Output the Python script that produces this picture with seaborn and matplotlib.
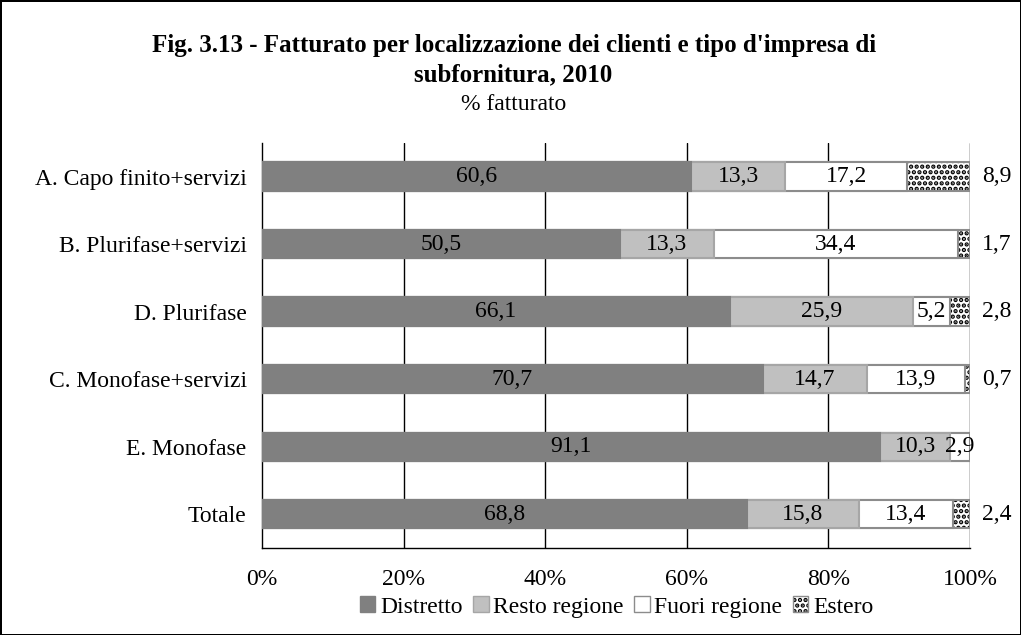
import numpy as np
import pandas as pd
import seaborn as sns
import matplotlib.pyplot as plt
from matplotlib.patches import Patch

categorie = ["A. Capo finito+servizi", "B. Plurifase+servizi", "D. Plurifase",
             "C. Monofase+servizi", "E. Monofase", "Totale"]
distretto = [60.6, 50.5, 66.1, 70.7, 91.1, 68.8]
resto_regione = [13.3, 13.3, 25.9, 14.7, 10.3, 15.8]
fuori_regione = [17.2, 34.4, 5.2, 13.9, 2.9, 13.4]
estero = [8.9, 1.7, 2.8, 0.7, 0.0, 2.4]
serie = ["Distretto", "Resto regione", "Fuori regione", "Estero"]
tick_x = [0, 20, 40, 60, 80, 100]

sns.set_theme(style="white")
plt.rcParams["font.family"] = ["Liberation Serif", "DejaVu Serif"]
plt.rcParams["text.color"] = "black"
plt.rcParams["xtick.labelcolor"] = "black"
plt.rcParams["ytick.labelcolor"] = "black"
plt.rcParams["hatch.color"] = "black"
plt.rcParams["hatch.linewidth"] = 2.2

df = pd.DataFrame({"cat": categorie, "Distretto": distretto,
                   "Resto regione": resto_regione,
                   "Fuori regione": fuori_regione, "Estero": estero})
tot = df[serie].sum(axis=1)
quote = df[serie].div(tot, axis=0) * 100
cum = quote.cumsum(axis=1)
start = cum - quote

fig = plt.figure(figsize=(10.21, 6.35), dpi=100, linewidth=2, edgecolor="black")
ax = fig.add_axes([0.2566, 0.137, 0.6934, 0.638])

stili = {
    "Estero": dict(color="white", edgecolor="#8c8c8c", hatch="..."),
    "Fuori regione": dict(color="white", edgecolor="#8c8c8c"),
    "Resto regione": dict(color="#c0c0c0", edgecolor="#a6a6a6"),
    "Distretto": dict(color="#808080", edgecolor="#808080"),
}
# stacked bars: draw cumulative totals from the last series back to the first
for s in serie[::-1]:
    st = stili[s]
    sns.barplot(x=cum[s].values, y=df["cat"], orient="h", ax=ax, width=0.42,
                color=st["color"], edgecolor=st["edgecolor"], linewidth=1.5,
                hatch=st.get("hatch"), saturation=1, zorder=3)

# hatch dots in black while the bar outline stays grey
for p in ax.patches:
    if p.get_hatch():
        p._hatch_color = (0, 0, 0, 1)

# labels
fs = 17
for i in range(len(categorie)):
    for s in ["Distretto", "Resto regione", "Fuori regione"]:
        v = df.loc[i, s]
        xc = start.loc[i, s] + quote.loc[i, s] / 2
        ax.text(xc, i, f"{v:.1f}".replace(".", ","), ha="center", va="center",
                fontsize=fs, zorder=5)
    v = df.loc[i, "Estero"]
    if v > 0:
        ax.text(103.8, i, f"{v:.1f}".replace(".", ","), ha="center", va="center",
                fontsize=fs, zorder=5, clip_on=False)

ax.set_xlim(0, 100)
ax.set_ylim(len(categorie) - 0.5, -0.5)
ax.set_xticks(tick_x)
ax.set_xticklabels([f"{t}%" for t in tick_x], fontsize=fs)
ax.set_yticks(range(len(categorie)))
ax.set_yticklabels(categorie, fontsize=fs)
ax.set_yticks(np.arange(-0.5, len(categorie)), minor=True)
ax.tick_params(axis="y", which="major", length=0, pad=11)
ax.tick_params(axis="y", which="minor", length=5, width=1, color="black", direction="out")
ax.tick_params(axis="x", which="major", length=5, width=1, color="black",
               direction="out", pad=10)
ax.set_xlabel("")
ax.set_ylabel("")
for t in tick_x[1:]:
    ax.axvline(t, color="black", linewidth=1, zorder=1)
for sp in ["top", "right"]:
    ax.spines[sp].set_visible(False)
for sp in ["left", "bottom"]:
    ax.spines[sp].set_color("black")
    ax.spines[sp].set_linewidth(1)

fig.text(0.503, 0.929, "Fig. 3.13 - Fatturato per localizzazione dei clienti e tipo d'impresa di",
         ha="center", va="center", fontsize=18, fontweight="bold")
fig.text(0.503, 0.882, "subfornitura, 2010", ha="center", va="center",
         fontsize=18, fontweight="bold")
fig.text(0.503, 0.835, "% fatturato", ha="center", va="center", fontsize=17)

handles = [Patch(facecolor=stili[s]["color"], edgecolor=stili[s]["edgecolor"],
                 hatch=stili[s].get("hatch"), label=s) for s in serie]
for h in handles:
    if h.get_hatch():
        h._hatch_color = (0, 0, 0, 1)
fig.legend(handles=handles, loc="center", bbox_to_anchor=(0.604, 0.044), ncol=4,
           frameon=False, fontsize=fs, handlelength=0.65, handleheight=0.65,
           handletextpad=0.2, columnspacing=0.45, borderpad=0)

fig.savefig("out.png", dpi=100, edgecolor="black")
